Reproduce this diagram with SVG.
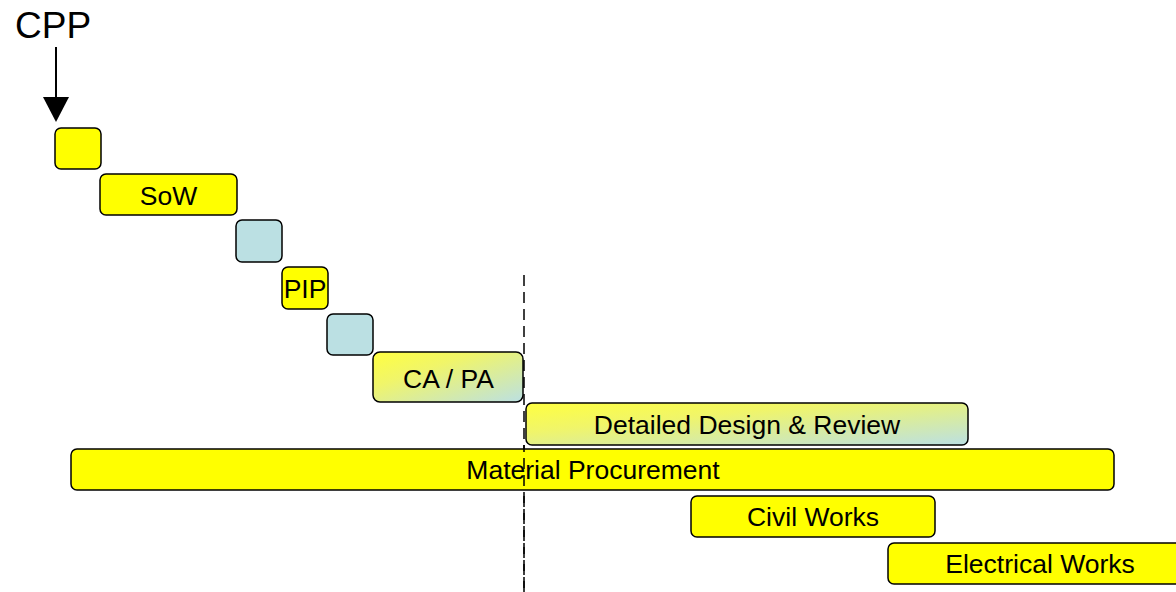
<svg xmlns="http://www.w3.org/2000/svg" width="1176" height="592" viewBox="0 0 1176 592">
  <style>
    .bar { stroke: #000; stroke-width: 1.5; }
    .yellow { fill: #FFFF00; }
    .blue { fill: #BBE0E3; }
    .grad { fill: url(#yb); }
    .lbl { font-family: "Liberation Sans", Arial, sans-serif; font-size: 26.5px; fill: #000; text-anchor: middle; }
    .cut { stroke: #000; stroke-width: 1.5; stroke-dasharray: 11,6; fill: none; }
  </style>
  <defs>
    <linearGradient id="yb" x1="0" y1="0" x2="1" y2="1">
      <stop offset="0" stop-color="#FFFF40"/>
      <stop offset="0.35" stop-color="#F0F56A"/>
      <stop offset="1" stop-color="#BBE0E3"/>
    </linearGradient>
  </defs>

  <text x="15" y="38" font-family="Liberation Sans, Arial, sans-serif" font-size="37">CPP</text>

  <g id="connectors">
    <line x1="56" y1="47" x2="56" y2="98" stroke="#000" stroke-width="2"/>
    <polygon points="43,97 69,97 56,122" fill="#000"/>
    <line class="cut" x1="524" y1="275" x2="524" y2="592"/>
  </g>

  <g id="cpp-box"><rect class="bar yellow" x="55" y="128" width="46" height="41" rx="6"/></g>
  <g id="sow"><rect class="bar yellow" x="100" y="174" width="137" height="41" rx="6"/><text class="lbl" x="168.5" y="205">SoW</text></g>
  <g id="review-1"><rect class="bar blue" x="236" y="220" width="46" height="42" rx="6"/></g>
  <g id="pip"><rect class="bar yellow" x="282" y="267" width="46" height="42" rx="6"/><text class="lbl" x="305" y="298">PIP</text></g>
  <g id="review-2"><rect class="bar blue" x="327" y="314" width="46" height="41" rx="6"/></g>
  <g id="ca-pa"><rect class="bar grad" x="373" y="352" width="150" height="50" rx="7"/><text class="lbl" x="448.5" y="388">CA / PA</text></g>
  <g id="detailed-design"><rect class="bar grad" x="526" y="403" width="442" height="42" rx="6"/><text class="lbl" x="747" y="434">Detailed Design &amp; Review</text></g>
  <g id="material-procurement"><rect class="bar yellow" x="71" y="449" width="1043" height="41" rx="6"/><text class="lbl" x="593" y="479">Material Procurement</text></g>
  <g id="civil-works"><rect class="bar yellow" x="691" y="496" width="244" height="41" rx="6"/><text class="lbl" x="813" y="526">Civil Works</text></g>
  <g id="electrical-works"><rect class="bar yellow" x="888" y="543" width="300" height="41" rx="6"/><text class="lbl" x="1040" y="573">Electrical Works</text></g>

  <!-- dashed cut line stays visible over the lower bars -->
  <line class="cut" x1="524" y1="445" x2="524" y2="592" stroke-dashoffset="4"/>
</svg>
